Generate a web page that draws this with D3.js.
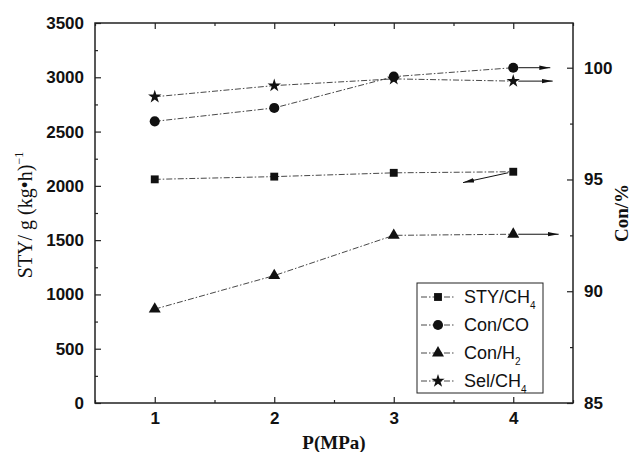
<!DOCTYPE html>
<html>
<head>
<meta charset="utf-8">
<script src="https://cdn.jsdelivr.net/npm/d3@7"></script>
<style>
  body { margin: 0; background: #fff; }
  svg { display: block; }
</style>
</head>
<body>
<div id="vis"></div>
<script>
var width  = 632;
var height = 452;
var margin = { top: 23, right: 59, bottom: 49, left: 95 };
var w = width - margin.left - margin.right;
var h = height - margin.top - margin.bottom;

// data
var pressure = [1, 2, 3, 4];
var styCH4   = [2060, 2085, 2120, 2130];   // left axis
var conCO    = [97.6, 98.2, 99.6, 100.0];  // right axis
var conH2    = [89.2, 90.7, 92.5, 92.55];  // right axis
var selCH4   = [98.7, 99.2, 99.5, 99.4];   // right axis

var xTicks  = [1, 2, 3, 4];
var yLTicks = [0, 500, 1000, 1500, 2000, 2500, 3000, 3500];
var yRTicks = [85, 90, 95, 100];

// arrows pointing to the axis each series belongs to
var arrows = [
  { series: "sty", x0: 4, x1: 3.58, y1: 2030 },
  { series: "co",  x0: 4, x1: 4.31 },
  { series: "h2",  x0: 4, x1: 4.38 },
  { series: "sel", x0: 4, x1: 4.33 }
];

var x  = d3.scaleLinear().domain([0.5, 4.5]).range([0, w]);
var yL = d3.scaleLinear().domain([0, 3500]).range([h, 0]);
var yR = d3.scaleLinear().domain([85, 102]).range([h, 0]);

var series = [
  { key: "sty", name: "STY/CH", sub: "4", vals: styCH4, y: yL, sym: d3.symbolSquare,   size: 62 },
  { key: "co",  name: "Con/CO", sub: "",  vals: conCO,  y: yR, sym: d3.symbolCircle,   size: 80 },
  { key: "h2",  name: "Con/H",  sub: "2", vals: conH2,  y: yR, sym: d3.symbolTriangle, size: 62 },
  { key: "sel", name: "Sel/CH", sub: "4", vals: selCH4, y: yR, sym: d3.symbolStar,     size: 55 }
];

var svg = d3.select("#vis").append("svg")
  .attr("width", width)
  .attr("height", height);

var defs = svg.append("defs");
defs.append("marker")
  .attr("id", "arr")
  .attr("viewBox", "0 0 11 6")
  .attr("refX", 11).attr("refY", 3)
  .attr("markerWidth", 11).attr("markerHeight", 6)
  .attr("markerUnits", "userSpaceOnUse")
  .attr("orient", "auto")
  .append("path")
  .attr("d", "M0,0.8L11,3L0,5.2Z")
  .attr("fill", "#111");

var g = svg.append("g")
  .attr("transform", "translate(" + margin.left + "," + margin.top + ")");

var tickFont = "'Liberation Sans', Arial, sans-serif";
var serif = "'Liberation Serif', 'Times New Roman', serif";

function styleAxis(sel) {
  sel.select(".domain").remove();
  sel.selectAll("line").attr("stroke", "#222").attr("stroke-width", 1.2);
  sel.selectAll("text")
    .attr("fill", "#111")
    .style("font-family", tickFont)
    .style("font-weight", "bold")
    .style("font-size", "17px");
}

// minor ticks
var xMinor  = [0.5, 1.5, 2.5, 3.5, 4.5];
var yLMinor = d3.range(250, 3500, 500);
var yRMinor = [87.5, 92.5, 97.5];

// bottom
g.append("g").attr("transform", "translate(0," + h + ")")
  .call(d3.axisBottom(x).tickValues(xTicks).tickSize(-6).tickPadding(9).tickFormat(d3.format("d")))
  .call(styleAxis);
g.append("g").attr("transform", "translate(0," + h + ")")
  .call(d3.axisBottom(x).tickValues(xMinor).tickSize(-3).tickFormat(""))
  .call(styleAxis);
// top mirror
g.append("g")
  .call(d3.axisTop(x).tickValues(xTicks).tickSize(-6).tickFormat(""))
  .call(styleAxis);
g.append("g")
  .call(d3.axisTop(x).tickValues(xMinor).tickSize(-3).tickFormat(""))
  .call(styleAxis);
// left
g.append("g")
  .call(d3.axisLeft(yL).tickValues(yLTicks).tickSize(-6).tickPadding(11).tickFormat(d3.format("d")))
  .call(styleAxis);
g.append("g")
  .call(d3.axisLeft(yL).tickValues(yLMinor).tickSize(-3).tickFormat(""))
  .call(styleAxis);
// right
g.append("g").attr("transform", "translate(" + w + ",0)")
  .call(d3.axisRight(yR).tickValues(yRTicks).tickSize(-6).tickPadding(11).tickFormat(d3.format("d")))
  .call(styleAxis);
g.append("g").attr("transform", "translate(" + w + ",0)")
  .call(d3.axisRight(yR).tickValues(yRMinor).tickSize(-3).tickFormat(""))
  .call(styleAxis);

// frame
g.append("rect")
  .attr("width", w).attr("height", h)
  .attr("fill", "none")
  .attr("stroke", "#222")
  .attr("stroke-width", 1.5);

// series lines
var dash = "6,2,1.5,2";
series.forEach(function(s) {
  var line = d3.line()
    .x(function(d, i) { return x(pressure[i]); })
    .y(function(d) { return s.y(d); });
  g.append("path")
    .datum(s.vals)
    .attr("d", line)
    .attr("fill", "none")
    .attr("stroke", "#333")
    .attr("stroke-width", 0.9)
    .attr("stroke-dasharray", dash);
});

// arrows
arrows.forEach(function(a) {
  var s = series.filter(function(d) { return d.key === a.series; })[0];
  var i = pressure.indexOf(a.x0);
  var y0 = s.y(s.vals[i]);
  var y1 = a.y1 !== undefined ? s.y(a.y1) : y0;
  var x0 = x(a.x0) + (a.x1 > a.x0 ? 5 : -5);
  g.append("line")
    .attr("x1", x0).attr("y1", y0 + (a.y1 !== undefined ? 1 : 0))
    .attr("x2", x(a.x1)).attr("y2", y1)
    .attr("stroke", "#111")
    .attr("stroke-width", 1)
    .attr("marker-end", "url(#arr)");
});

// markers
series.forEach(function(s) {
  g.selectAll(".m-" + s.key)
    .data(s.vals)
    .enter().append("path")
    .attr("class", "m-" + s.key)
    .attr("transform", function(d, i) { return "translate(" + x(pressure[i]) + "," + s.y(d) + ")"; })
    .attr("d", d3.symbol().type(s.sym).size(s.size))
    .attr("fill", "#111");
});

// legend
var lg = svg.append("g").attr("transform", "translate(417,283)");
lg.append("rect")
  .attr("width", 126).attr("height", 110)
  .attr("fill", "#fff")
  .attr("stroke", "#222")
  .attr("stroke-width", 1);
series.forEach(function(s, i) {
  var row = lg.append("g").attr("transform", "translate(0," + (14 + i * 28) + ")");
  row.append("line")
    .attr("x1", 4).attr("x2", 38)
    .attr("stroke", "#333").attr("stroke-width", 0.9)
    .attr("stroke-dasharray", dash);
  row.append("path")
    .attr("transform", "translate(21,0)")
    .attr("d", d3.symbol().type(s.sym).size(s.size))
    .attr("fill", "#111");
  var t = row.append("text")
    .attr("x", 47).attr("y", 6)
    .attr("fill", "#111")
    .style("font-family", tickFont)
    .style("font-size", "18px")
    .text(s.name);
  if (s.sub) {
    t.append("tspan")
      .attr("dy", 6)
      .style("font-size", "10px")
      .text(s.sub);
  }
});

// axis titles
svg.append("text")
  .attr("x", margin.left + x(2.5)).attr("y", 449)
  .attr("text-anchor", "middle")
  .attr("fill", "#111")
  .style("font-family", serif)
  .style("font-weight", "bold")
  .style("font-size", "19px")
  .text("P(MPa)");

var lt = svg.append("text")
  .attr("transform", "translate(32,215) rotate(-90)")
  .attr("text-anchor", "middle")
  .attr("fill", "#111")
  .style("font-family", serif)
  .style("font-size", "20px");
lt.append("tspan").text("STY/ g (kg\u2022h)");
lt.append("tspan").attr("dy", -9).style("font-size", "12px").text("\u22121");

svg.append("text")
  .attr("transform", "translate(628,213) rotate(-90)")
  .attr("text-anchor", "middle")
  .attr("fill", "#111")
  .style("font-family", serif)
  .style("font-weight", "bold")
  .style("font-size", "19px")
  .text("Con/%");
</script>
</body>
</html>
